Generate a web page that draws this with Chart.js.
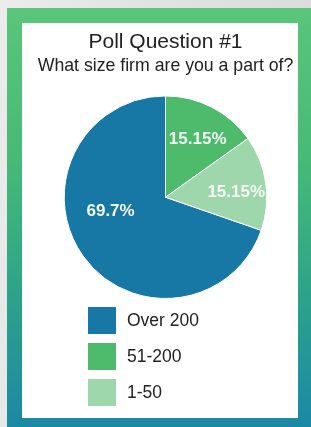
<!DOCTYPE html>
<html>
<head>
<meta charset="utf-8">
<script src="https://cdn.jsdelivr.net/npm/chart.js@4/dist/chart.umd.min.js"></script>
<style>
  html, body { margin: 0; padding: 0; }
  body {
    width: 311px; height: 427px; overflow: hidden; position: relative;
    background: linear-gradient(100deg, #ececec 0%, #e2e2e2 40%, #d9d9d9 100%);
    font-family: "Liberation Sans", Arial, sans-serif;
  }
  #frame {
    position: absolute; left: 7px; top: 8px; width: 320px; height: 430px;
    background: linear-gradient(to bottom, #5ac57b 0%, #47ba77 35%, #2ea488 65%, #1a86a8 100%);
  }
  #panel {
    position: absolute; left: 22px; top: 23px; width: 276px; height: 395px;
    background: #ffffff;
  }
  #chart { position: absolute; left: 0; top: 0; }
  #legend { position: absolute; left: 66px; top: 284px; }
  .item { display: flex; align-items: center; height: 27px; margin-bottom: 9px; }
  .box { width: 28px; height: 27px; margin-right: 11px; }
  .txt { font-size: 17.5px; color: #222; }
</style>
</head>
<body>
<div id="frame"></div>
<div id="panel">
  <canvas id="chart" width="276" height="395"></canvas>
  <div id="legend"></div>
</div>
<script>
const categories = ['Over 200', '51-200', '1-50'];
const shares = [69.7, 15.15, 15.15];
const colors = ['#1777a5', '#4dbb6b', '#9dd7ab'];

// blue slice ends at the top, greens follow clockwise
const startAngle = 360 * (1 - shares[0] / 100);

const sliceLabels = {
  id: 'sliceLabels',
  afterDatasetsDraw(chart, args, opts) {
    const c = chart.ctx;
    const meta = chart.getDatasetMeta(0);
    c.save();
    c.font = 'bold 17px "Liberation Sans", Arial, sans-serif';
    c.fillStyle = '#f4faf5';
    c.textAlign = 'center';
    c.textBaseline = 'middle';
    meta.data.forEach((arc, i) => {
      const p = arc.getProps(['x', 'y', 'startAngle', 'endAngle', 'outerRadius'], true);
      const n = opts.nudge[i];
      const a = (p.startAngle + p.endAngle) / 2 + n[0] * Math.PI / 180;
      const r = p.outerRadius * n[1];
      c.fillText(shares[i] + '%', p.x + Math.cos(a) * r, p.y + Math.sin(a) * r);
    });
    c.restore();
  }
};

const ctx = document.getElementById('chart').getContext('2d');
const chart = new Chart(ctx, {
  type: 'pie',
  data: {
    labels: categories,
    datasets: [{
      data: shares,
      backgroundColor: colors,
      borderColor: '#ffffff',
      borderWidth: 1,
      hoverOffset: 0
    }]
  },
  options: {
    responsive: false,
    animation: false,
    devicePixelRatio: 1,
    rotation: startAngle,
    layout: { padding: { left: 11, right: 0, bottom: 119 } },
    plugins: {
      legend: { display: false },
      tooltip: { enabled: false },
      title: {
        display: true,
        text: 'Poll Question #1',
        color: '#222',
        font: { size: 21, weight: 'normal', family: '"Liberation Sans", Arial, sans-serif' },
        padding: { top: 7, bottom: 0 }
      },
      subtitle: {
        display: true,
        text: 'What size firm are you a part of?',
        color: '#222',
        font: { size: 17.7, family: '"Liberation Sans", Arial, sans-serif' },
        padding: { top: 0, bottom: 19 }
      },
      sliceLabels: { nudge: [[21, 0.56], [2, 0.65], [4, 0.7]] }
    }
  },
  plugins: [sliceLabels]
});

const legend = document.getElementById('legend');
categories.forEach((name, i) => {
  const row = document.createElement('div');
  row.className = 'item';
  row.innerHTML = '<div class="box" style="background:' + colors[i] + '"></div><span class="txt">' + name + '</span>';
  legend.appendChild(row);
});
</script>
</body>
</html>
